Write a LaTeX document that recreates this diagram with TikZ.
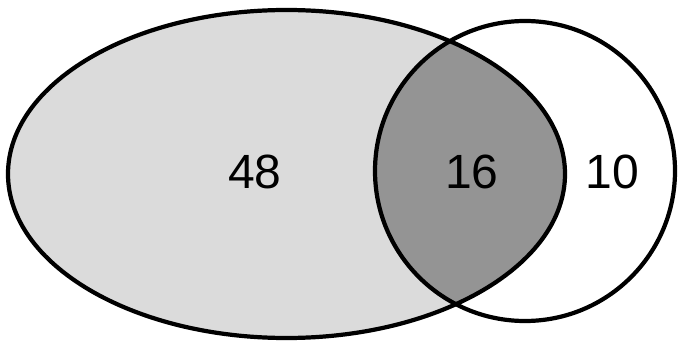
\documentclass[tikz,border=0pt]{standalone}
\usepackage{fontspec}
\setmainfont{Liberation Sans}
\begin{document}
\begin{tikzpicture}[
  x=0.03cm, y=-0.03cm,
  setline/.style={line width=3.6pt},
  count/.style={font=\fontsize{41}{41}\selectfont},
  wide/.style={fill=black!14},
  both/.style={fill=black!42}
]
  \useasboundingbox (0,0) rectangle (678,344);
  % regions
  \fill[wide] (286.5,174) ellipse [x radius=278.5, y radius=164];
  \begin{scope}
    \clip (286.5,174) ellipse [x radius=278.5, y radius=164];
    \fill[both] (525,171) circle [radius=150];
  \end{scope}
  % outlines
  \draw[setline] (286.5,174) ellipse [x radius=278.5, y radius=164];
  \draw[setline] (525,171) circle [radius=150];

  \node[count] (onlyA) at (255,172) {48};
  \node[count] (inter) at (472,172) {16};
  \node[count] (onlyB) at (612,172) {10};
\end{tikzpicture}
\end{document}
